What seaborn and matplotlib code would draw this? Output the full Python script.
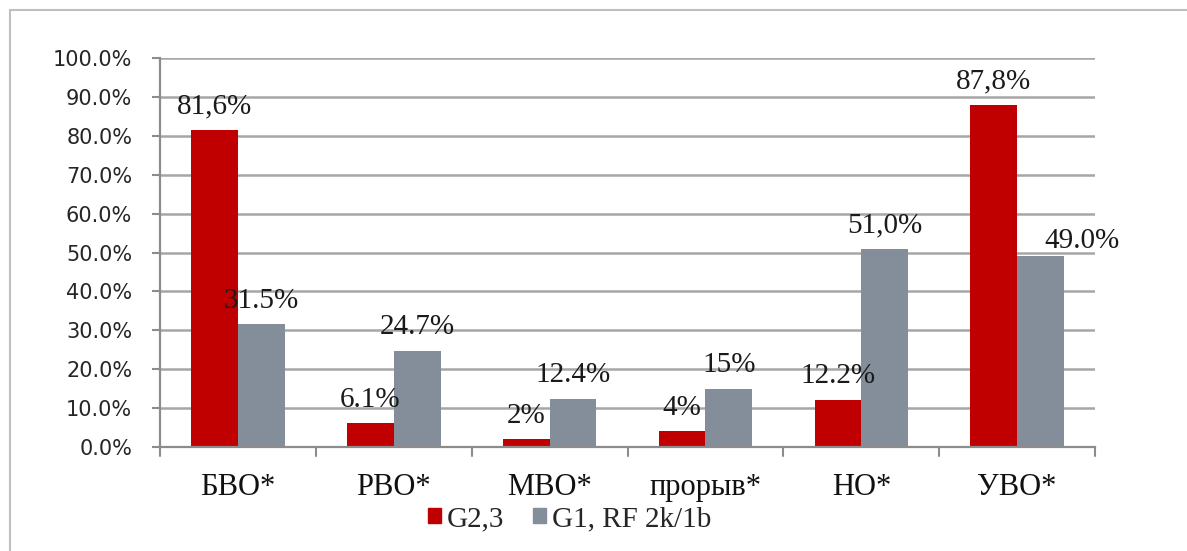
import matplotlib
matplotlib.use("Agg")
import matplotlib.pyplot as plt
import matplotlib.patches as mpatches
import numpy as np
import pandas as pd
import seaborn as sns

categories = ["БВО*", "РВО*", "МВО*", "прорыв*", "НО*", "УВО*"]
series_names = ["G2,3", "G1, RF 2k/1b"]
g23_values = [81.6, 6.1, 2.0, 4.0, 12.2, 87.8]
g1_values = [31.5, 24.7, 12.4, 15.0, 51.0, 49.0]
g23_labels = ["81,6%", "6.1%", "2%", "4%", "12.2%", "87,8%"]
g1_labels = ["31.5%", "24.7%", "12.4%", "15%", "51,0%", "49.0%"]
y_ticks = [0, 10, 20, 30, 40, 50, 60, 70, 80, 90, 100]

df = pd.DataFrame({
    "category": categories * 2,
    "series": [series_names[0]] * len(categories) + [series_names[1]] * len(categories),
    "value": g23_values + g1_values,
})

sns.set_theme(style="white")
serif = ["Liberation Serif", "DejaVu Serif"]
sans = ["DejaVu Sans"]

fig = plt.figure(figsize=(11.87, 5.51), dpi=100)
ax = fig.add_axes([0.1348, 0.1887, 0.7877, 0.706])

palette = {series_names[0]: "#C00000", series_names[1]: "#848E9A"}
sns.barplot(data=df, x="category", y="value", hue="series", order=categories,
            hue_order=series_names, palette=palette, width=0.6, gap=0,
            saturation=1, edgecolor="none", linewidth=0, ax=ax, legend=False)

ax.set_ylim(0, 100)
ax.set_xlim(-0.5, len(categories) - 0.5)
ax.set_yticks(y_ticks)
ax.set_yticklabels([f"{v:.1f}%" for v in y_ticks], fontsize=15, family=sans, color="#262626")
ax.set_xticks(range(len(categories)))
ax.set_xticklabels(categories, fontsize=22, family=serif, color="#111111")
ax.set_xlabel("")
ax.set_ylabel("")

# horizontal gridlines
ax.yaxis.grid(True, color="#A6A6A6", linewidth=1.8)
ax.set_axisbelow(True)
for s in ["top", "right"]:
    ax.spines[s].set_visible(False)
ax.spines["left"].set_color("#8C8C8C")
ax.spines["left"].set_linewidth(1.6)
ax.spines["bottom"].set_color("#8C8C8C")
ax.spines["bottom"].set_linewidth(1.6)

# tick marks: y on the left, x at category boundaries
ax.tick_params(axis="y", length=6, width=1.5, color="#8C8C8C", left=True, pad=14)
ax.tick_params(axis="x", length=0, pad=19)
for b in np.arange(-0.5, len(categories), 1.0):
    ax.plot([b, b], [0, -2.2], color="#8C8C8C", lw=1.5, clip_on=False)

# value labels above the bars
bars_red = ax.containers[0]
bars_gray = ax.containers[1]
lab_kw = dict(fontsize=21, family=serif, color="#1a1a1a", ha="center", va="center",
              textcoords="offset points")
for i, (bar, txt) in enumerate(zip(bars_red, g23_labels)):
    x = bar.get_x() + bar.get_width() / 2
    ax.annotate(txt, (x, bar.get_height()), xytext=(0, 17), **lab_kw)
for i, (bar, txt) in enumerate(zip(bars_gray, g1_labels)):
    x = bar.get_x() + bar.get_width() / 2
    dx, dy = (30, 11) if i == len(categories) - 1 else (0, 17)
    ax.annotate(txt, (x, bar.get_height()), xytext=(dx, dy), **lab_kw)

# legend below the axis
handles = [mpatches.Patch(color=palette[n], label=n) for n in series_names]
fig.legend(handles=handles, loc="center", bbox_to_anchor=(0.48, 0.058), ncol=2,
           frameon=False, prop={"family": serif, "size": 21}, handlelength=0.45,
           handleheight=0.45, handletextpad=0.2, columnspacing=1.0)

# outer chart frame
frame = mpatches.Rectangle((10 / 1187, -0.05), 1.2, 1 - 10 / 551 + 0.05,
                           transform=fig.transFigure, fill=False,
                           edgecolor="#BFBFBF", linewidth=1.5)
fig.patches.append(frame)

fig.savefig("out.png", dpi=100)
